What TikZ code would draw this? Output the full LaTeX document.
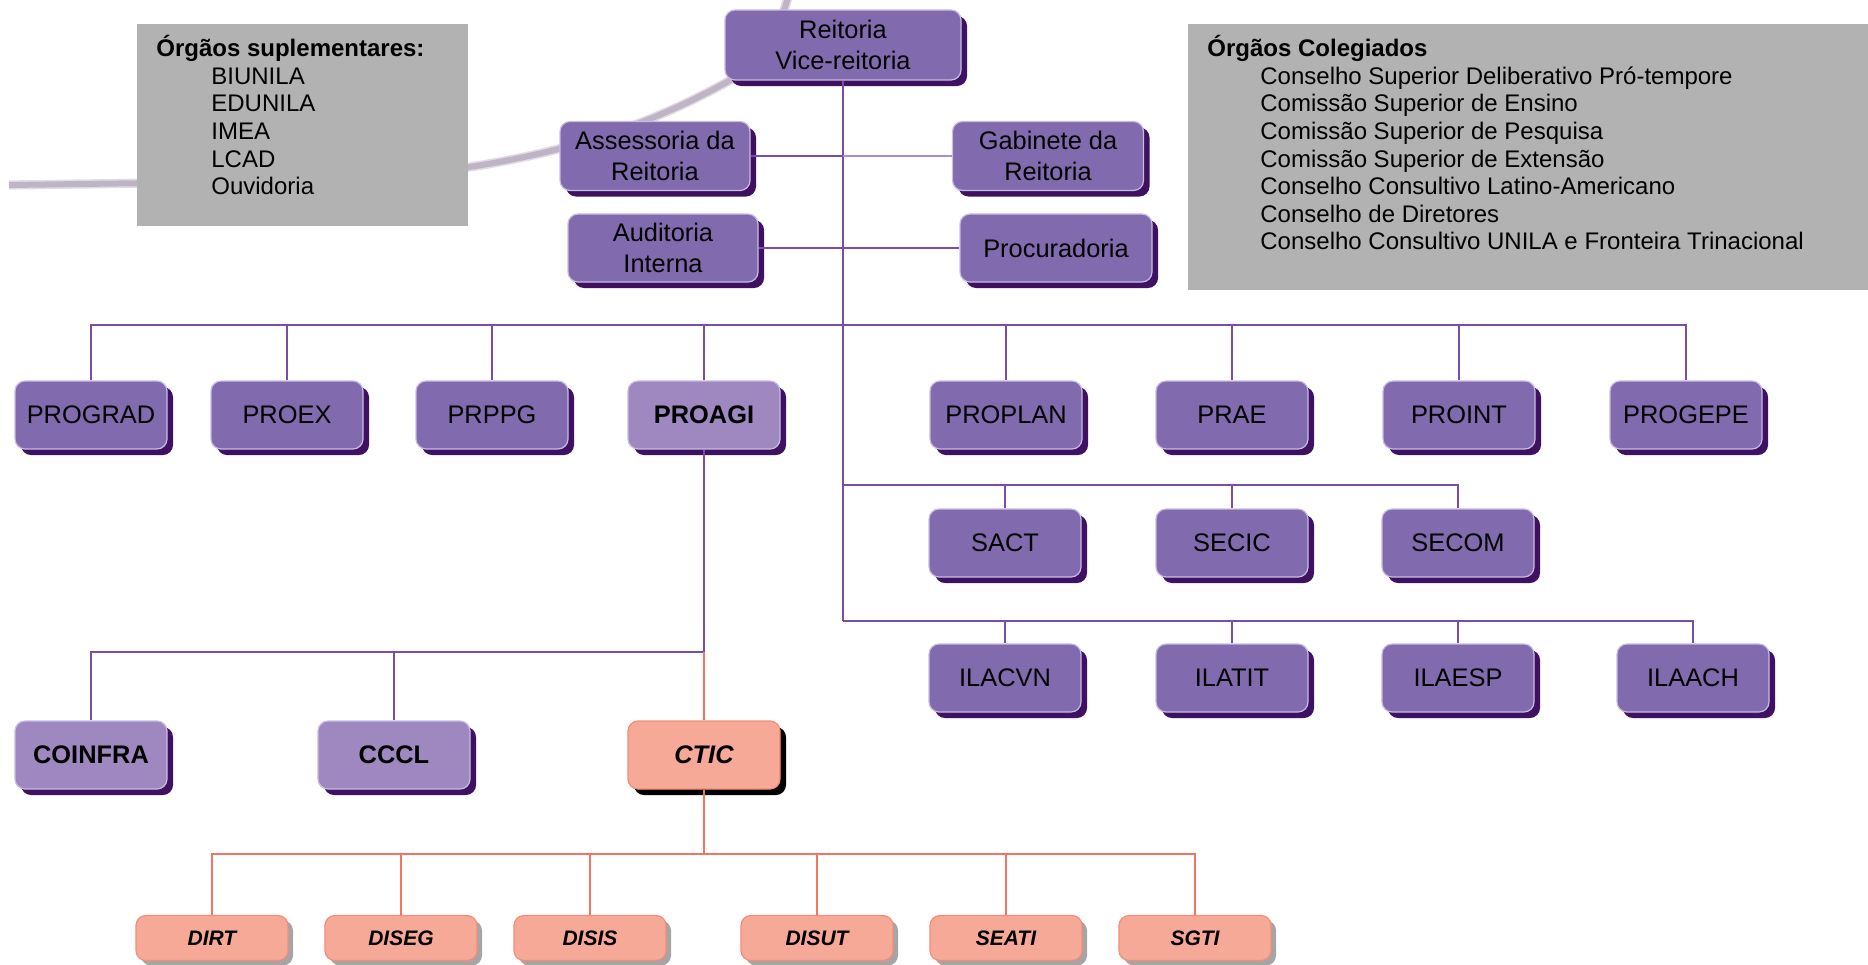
\documentclass[tikz,border=0pt]{standalone}
\usepackage{fontspec}
\setmainfont{Liberation Sans}
\usetikzlibrary{shadows}

\definecolor{roxo}{RGB}{129,106,174}
\definecolor{roxoclaro}{RGB}{158,136,191}
\definecolor{sombraroxa}{RGB}{62,18,96}
\definecolor{bordaroxa}{RGB}{200,188,228}
\definecolor{linharoxa}{RGB}{122,78,166}
\definecolor{linhalilas}{RGB}{164,144,204}
\definecolor{salmao}{RGB}{247,169,151}
\definecolor{bordasalmao}{RGB}{244,140,118}
\definecolor{linhasalmao}{RGB}{243,117,95}
\definecolor{sombracinza}{RGB}{165,165,165}
\definecolor{cinza}{RGB}{178,178,178}
\definecolor{arco}{RGB}{190,180,198}
\definecolor{arcoclaro}{RGB}{226,219,230}

\tikzset{
  caixa/.style={rounded corners=5pt, line width=0.6pt, minimum width=76pt,
    minimum height=34pt, inner sep=1pt, align=center,
    font=\fontsize{12.7}{15.5}\selectfont},
  orgao/.style={caixa, fill=roxo, draw=bordaroxa,
    drop shadow={shadow xshift=3pt, shadow yshift=-3pt, fill=sombraroxa, opacity=1}},
  orgaoclaro/.style={orgao, fill=roxoclaro, font=\fontsize{12.7}{15.5}\selectfont\bfseries},
  ctibox/.style={caixa, fill=salmao, draw=bordasalmao,
    font=\fontsize{12.7}{15.5}\selectfont\bfseries\itshape,
    drop shadow={shadow xshift=3pt, shadow yshift=-3pt, fill=black, opacity=1}},
  setorbox/.style={caixa, fill=salmao, draw=bordasalmao, minimum height=22.5pt,
    font=\fontsize{10.5}{12}\selectfont\bfseries\itshape,
    drop shadow={shadow xshift=2.5pt, shadow yshift=-2.5pt, fill=sombracinza, opacity=1}},
  painel/.style={fill=cinza, inner sep=0pt, anchor=north west},
  listatxt/.style={inner sep=0pt, anchor=north west, align=left,
    font=\fontsize{12}{13.8}\selectfont},
  linha/.style={draw=linharoxa, line width=1.25pt},
  linhasal/.style={draw=linhasalmao, line width=1.4pt},
}

\begin{document}
\begin{tikzpicture}[x=0.5pt, y=-0.5pt]
    \useasboundingbox (0,0) rectangle (1868,964);

    % arco de fundo
    \draw[arcoclaro, line width=4.6pt] (9,185) -- (300,181) .. controls (520,176) and (640,130) .. (727,82)
        .. controls (760,64) and (780,30) .. (790,-10);
    \draw[arco, line width=3pt] (9,185) -- (300,181) .. controls (520,176) and (640,130) .. (727,82)
        .. controls (760,64) and (780,30) .. (790,-10);

    % Paineis
    \node[painel, minimum width=165.5pt, minimum height=101pt] (painelsupl) at (137,24) {};
    \node[painel, minimum width=340pt, minimum height=133pt] (painelcoleg) at (1188,24) {};

    \node[listatxt] (supl) at (156,35) {\textbf{Órgãos suplementares:}\\
        \hspace*{27.5pt}BIUNILA\\
        \hspace*{27.5pt}EDUNILA\\
        \hspace*{27.5pt}IMEA\\
        \hspace*{27.5pt}LCAD\\
        \hspace*{27.5pt}Ouvidoria};
    \node[listatxt] (coleg) at (1207,35) {\textbf{Órgãos Colegiados}\\
        \hspace*{26.5pt}Conselho Superior Deliberativo Pró-tempore\\
        \hspace*{26.5pt}Comissão Superior de Ensino\\
        \hspace*{26.5pt}Comissão Superior de Pesquisa\\
        \hspace*{26.5pt}Comissão Superior de Extensão\\
        \hspace*{26.5pt}Conselho Consultivo Latino-Americano\\
        \hspace*{26.5pt}Conselho de Diretores\\
        \hspace*{26.5pt}Conselho Consultivo UNILA e Fronteira Trinacional};

    % Reitoria e assessorias
    \node[orgao, minimum width=118pt, minimum height=35pt] (reitoria) at (843,45) {Reitoria\\Vice-reitoria};
    \node[orgao, minimum width=95pt, minimum height=34.5pt] (assessoria) at (655,156) {Assessoria da\\Reitoria};
    \node[orgao, minimum width=95.5pt, minimum height=34.5pt] (gabinete) at (1048,156) {Gabinete da\\Reitoria};
    \node[orgao, minimum width=95pt] (auditoria) at (663,248) {Auditoria\\Interna};
    \node[orgao, minimum width=96pt] (procuradoria) at (1056,248) {Procuradoria};

    % Pro-reitorias
    \node[orgao] (prograd) at (91,415) {PROGRAD};
    \node[orgao] (proex) at (287,415) {PROEX};
    \node[orgao] (prppg) at (492,415) {PRPPG};
    \node[orgaoclaro] (proagi) at (704,415) {PROAGI};
    \node[orgao] (proplan) at (1006,415) {PROPLAN};
    \node[orgao] (prae) at (1232,415) {PRAE};
    \node[orgao] (proint) at (1459,415) {PROINT};
    \node[orgao] (progepe) at (1686,415) {PROGEPE};

    % Secretarias
    \node[orgao] (sact) at (1005,543) {SACT};
    \node[orgao] (secic) at (1232,543) {SECIC};
    \node[orgao] (secom) at (1458,543) {SECOM};

    % Institutos
    \node[orgao] (ilacvn) at (1005,678) {ILACVN};
    \node[orgao] (ilatit) at (1232,678) {ILATIT};
    \node[orgao] (ilaesp) at (1458,678) {ILAESP};
    \node[orgao] (ilaach) at (1693,678) {ILAACH};

    % Coordenadorias da PROAGI
    \node[orgaoclaro] (coinfra) at (91,755) {COINFRA};
    \node[orgaoclaro] (cccl) at (394,755) {CCCL};
    \node[ctibox] (ctic) at (704,755) {CTIC};

    % Divisoes do CTIC
    \node[setorbox] (dirt) at (212,938) {DIRT};
    \node[setorbox] (diseg) at (401,938) {DISEG};
    \node[setorbox] (disis) at (590,938) {DISIS};
    \node[setorbox] (disut) at (817,938) {DISUT};
    \node[setorbox] (seati) at (1006,938) {SEATI};
    \node[setorbox] (sgti) at (1195,938) {SGTI};

    % Barramentos
    \coordinate (barrapro) at (843,325);
    \coordinate (barrasec) at (843,485);
    \coordinate (barrains) at (843,621);
    \coordinate (barraagi) at (704,652);
    \coordinate (barracti) at (704,854);

    \draw[linha] (reitoria.south) -- (barrains);
    \draw[linha] (assessoria.east) -- (assessoria.east -| reitoria.south);
    \draw[linhalilas, line width=1.25pt] (assessoria.east -| reitoria.south) -- (gabinete.west);
    \draw[linha] (auditoria.east) -- (procuradoria.west);

    \foreach \n in {prograd,proex,prppg,proagi,proplan,prae,proint,progepe}
        \draw[linha] (barrapro) -| (\n.north);
    \foreach \n in {sact,secic,secom}
        \draw[linha] (barrasec) -| (\n.north);
    \foreach \n in {ilacvn,ilatit,ilaesp,ilaach}
        \draw[linha] (barrains) -| (\n.north);

    \draw[linha] (proagi.south) -- (barraagi);
    \foreach \n in {coinfra,cccl}
        \draw[linha] (barraagi) -| (\n.north);
    \draw[linhasal] (barraagi) -- (ctic.north);

    \draw[linhasal] (ctic.south) -- (barracti);
    \foreach \n in {dirt,diseg,disis,disut,seati,sgti}
        \draw[linhasal] (barracti) -| (\n.north);
\end{tikzpicture}
\end{document}
